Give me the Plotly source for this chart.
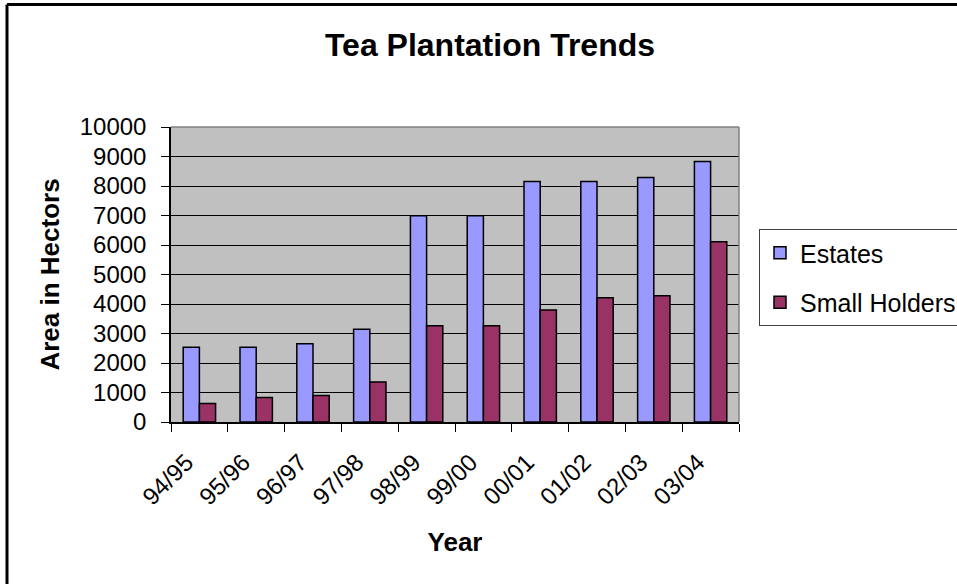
import plotly.graph_objects as go

years = ["94/95", "95/96", "96/97", "97/98", "98/99", "99/00", "00/01", "01/02", "02/03", "03/04"]
estates = [2530, 2530, 2650, 3140, 6990, 6990, 8150, 8150, 8290, 8830]
small_holders = [625, 830, 900, 1360, 3260, 3260, 3800, 4210, 4280, 6110]
y_ticks = [0, 1000, 2000, 3000, 4000, 5000, 6000, 7000, 8000, 9000, 10000]
y_tick_text = [str(v) for v in y_ticks]

FONT = "Arial, Liberation Sans, sans-serif"
W, H = 957, 584
L, R, T, B = 171, 218, 127, 162
pw, ph = W - L - R, H - T - B

def px(x):
    return (x - L) / pw

def py(y):
    return (H - B - y) / ph

fig = go.Figure()
fig.add_trace(go.Bar(name="Estates", x=years, y=estates, legendgroup="a",
                     marker=dict(color="#9999FF", line=dict(color="black", width=1.5))))
fig.add_trace(go.Bar(name="Small Holders", x=years, y=small_holders, legendgroup="b",
                     marker=dict(color="#993366", line=dict(color="black", width=1.5))))

fig.update_layout(
    width=W, height=H,
    margin=dict(l=L, r=R, t=T, b=B, autoexpand=False),
    paper_bgcolor="white", plot_bgcolor="#C0C0C0",
    font=dict(family=FONT, color="black", size=24),
    barmode="group", bargap=0.43, bargroupgap=0,
    title=dict(text="<b>Tea Plantation Trends</b>", x=0.512, xref="container", xanchor="center",
               y=1 - 45 / H, yref="container", yanchor="middle", font=dict(size=32)),
    legend=dict(x=px(759), y=py(229), xanchor="left", yanchor="top",
                bordercolor="#404040", borderwidth=1, bgcolor="white",
                font=dict(size=25), tracegroupgap=14, traceorder="grouped"),
    showlegend=True,
)
fig.update_xaxes(
    type="category", showline=True, linecolor="black", linewidth=1.5,
    ticks="outside", ticklen=8, tickcolor="black", tickson="boundaries",
    tickangle=-45, showgrid=False, ticklabelstandoff=15, ticklabelshift=-13,
    title=dict(text="<b>Year</b>", font=dict(size=26), standoff=24),
)
fig.update_yaxes(
    range=[0, 10000], tickvals=y_ticks, ticktext=y_tick_text, showline=True,
    linecolor="black", linewidth=1.5,
    ticks="outside", ticklen=8, tickcolor="black", ticklabelstandoff=10,
    showgrid=True, gridcolor="black", gridwidth=1, zeroline=False,
    title=dict(text="<b>Area in Hectors</b>", font=dict(size=26), standoff=13),
)

# plot-area top/right edges (grey) and outer chart border
fig.add_shape(type="line", xref="paper", yref="paper", x0=0, x1=1, y0=1, y1=1,
              line=dict(color="#808080", width=1.5), layer="above")
fig.add_shape(type="line", xref="paper", yref="paper", x0=1, x1=1, y0=0, y1=1,
              line=dict(color="#808080", width=1.5), layer="above")
fig.add_shape(type="line", xref="paper", yref="paper", x0=px(7), x1=px(W + 5), y0=py(4.5), y1=py(4.5),
              line=dict(color="black", width=3), layer="above")
fig.add_shape(type="line", xref="paper", yref="paper", x0=px(7), x1=px(7), y0=py(4.5), y1=py(H + 5),
              line=dict(color="black", width=3), layer="above")

fig.write_html("out.html")
